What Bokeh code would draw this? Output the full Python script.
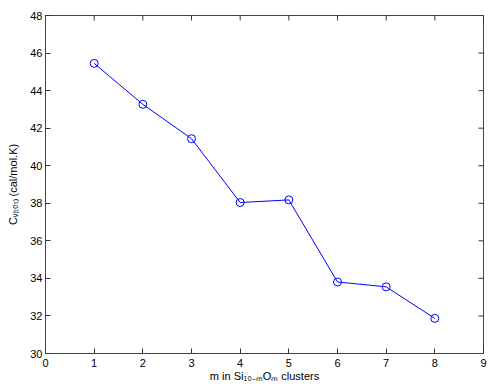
import math
from bokeh.plotting import figure
from bokeh.models import Range1d, FixedTicker, ColumnDataSource
from bokeh.embed import file_html
from bokeh.resources import INLINE

# ---- data ----
m_values = [1, 2, 3, 4, 5, 6, 7, 8]
cv_values = [45.45, 43.27, 41.44, 38.04, 38.18, 33.81, 33.55, 31.87]
x_ticks = [0, 1, 2, 3, 4, 5, 6, 7, 8, 9]
y_ticks = [30, 32, 34, 36, 38, 40, 42, 44, 46, 48]
x_label = "m in Si\u2081\u2080\u208B\u2098O\u2098 clusters"
y_label = "C\u1D65\u208D\u209C\u2092\u209C\u208E (cal/mol.K)"

FONT = "Liberation Sans"
AX = "#444444"

p = figure(frame_width=438, frame_height=338, output_backend="svg",
           toolbar_location=None,
           x_range=Range1d(x_ticks[0], x_ticks[-1]),
           y_range=Range1d(y_ticks[0], y_ticks[-1]),
           min_border_left=45, min_border_right=17,
           min_border_top=15, min_border_bottom=36)
p.grid.visible = False
p.outline_line_color = AX
p.background_fill_color = "white"
p.border_fill_color = "white"

for ax, ticks in ((p.xaxis[0], x_ticks), (p.yaxis[0], y_ticks)):
    ax.ticker = FixedTicker(ticks=ticks)
    ax.major_tick_in = 5
    ax.major_tick_out = 0
    ax.minor_tick_line_color = None
    ax.axis_line_color = AX
    ax.major_tick_line_color = "#333333"
    ax.major_label_text_font = FONT
    ax.major_label_text_font_size = "11px"
    ax.major_label_text_color = "black"
    ax.axis_label_text_font = FONT
    ax.axis_label_text_font_size = "11px"
    ax.axis_label_text_font_style = "normal"
    ax.axis_label_text_color = "black"

p.xaxis[0].axis_label = x_label
p.xaxis[0].major_label_standoff = 5
p.xaxis[0].axis_label_standoff = 0
p.yaxis[0].axis_label = y_label
p.yaxis[0].major_label_standoff = 3
p.yaxis[0].axis_label_standoff = 8

# tick marks on the top and right edges of the box (half clipped by frame)
top_src = ColumnDataSource(dict(x=x_ticks, y=[y_ticks[-1]] * len(x_ticks)))
right_src = ColumnDataSource(dict(x=[x_ticks[-1]] * len(y_ticks), y=y_ticks))
p.scatter("x", "y", source=top_src, marker="dash", size=10, angle=math.pi / 2,
          line_color="#333333", line_width=1)
p.scatter("x", "y", source=right_src, marker="dash", size=10, angle=0,
          line_color="#333333", line_width=1)

src = ColumnDataSource(dict(m=m_values, cv=cv_values))
p.line("m", "cv", source=src, line_color="#0000ff", line_width=1)
p.scatter("m", "cv", source=src, marker="circle", size=8,
          fill_color=None, line_color="#0000ff", line_width=1)

open("out.html", "w").write(file_html(p, INLINE))
